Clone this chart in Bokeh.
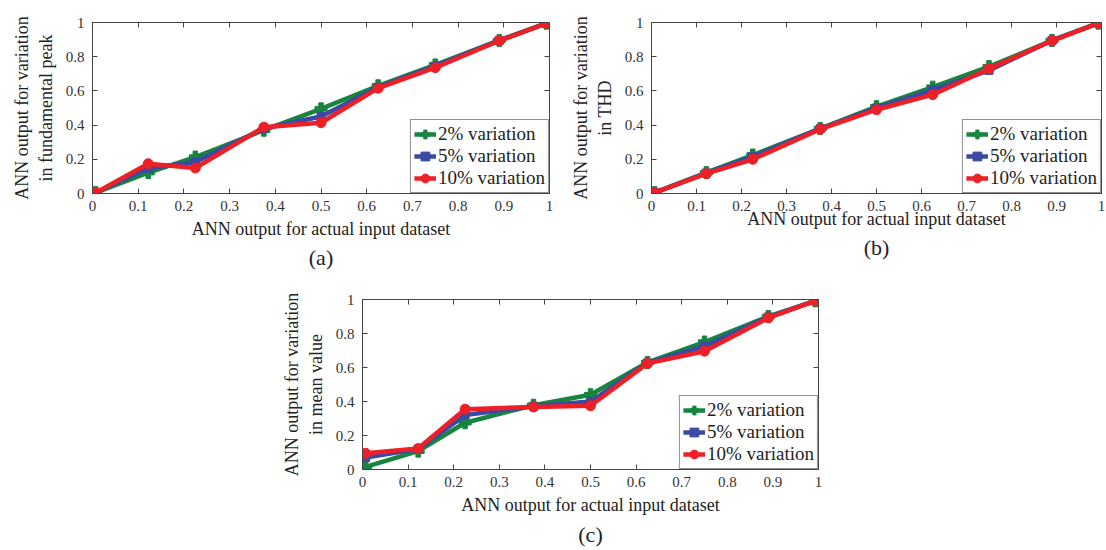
from bokeh.plotting import figure
from bokeh.models import LinearAxis, Title, Legend, LegendItem, FixedTicker, Range1d, Spacer
from bokeh.layouts import column, row
from bokeh.embed import file_html
from bokeh.resources import INLINE

# ---------------- data ----------------
x_actual = [0.007, 0.122, 0.225, 0.375, 0.5, 0.625, 0.75, 0.89, 0.993]

a_2 = [0.005, 0.122, 0.213, 0.370, 0.495, 0.630, 0.752, 0.895, 0.996]
a_5 = [0.005, 0.148, 0.184, 0.380, 0.450, 0.622, 0.745, 0.895, 0.995]
a_10 = [0.005, 0.174, 0.149, 0.388, 0.414, 0.616, 0.736, 0.893, 0.995]

b_2 = [0.005, 0.122, 0.225, 0.380, 0.508, 0.622, 0.742, 0.895, 0.996]
b_5 = [0.005, 0.120, 0.215, 0.380, 0.500, 0.605, 0.720, 0.895, 0.996]
b_10 = [0.005, 0.116, 0.200, 0.376, 0.490, 0.578, 0.730, 0.893, 0.996]

c_2 = [0.015, 0.108, 0.275, 0.378, 0.440, 0.630, 0.750, 0.900, 0.992]
c_5 = [0.070, 0.120, 0.320, 0.372, 0.400, 0.627, 0.725, 0.897, 0.992]
c_10 = [0.095, 0.123, 0.355, 0.368, 0.375, 0.624, 0.696, 0.892, 0.992]

series_labels = ["2% variation", "5% variation", "10% variation"]
x_ticks = [0, 0.1, 0.2, 0.3, 0.4, 0.5, 0.6, 0.7, 0.8, 0.9, 1]
x_tick_labels = ["0", "0.1", "0.2", "0.3", "0.4", "0.5", "0.6", "0.7", "0.8", "0.9", "1"]
y_ticks = [0, 0.2, 0.4, 0.6, 0.8, 1]
y_tick_labels = ["0", "0.2", "0.4", "0.6", "0.8", "1"]

x_label = "ANN output for actual input dataset"
y_labels = ["ANN output for variation\nin fundamental peak",
            "ANN output for variation\nin THD",
            "ANN output for variation\nin mean value"]
captions = ["(a)", "(b)", "(c)"]

# ---------------- style ----------------
FONT = "'Liberation Serif'"
COLORS = ["#17843f", "#3b4aa3", "#ee2027"]
MARKERS = ["plus", "square", "circle"]
MSIZES = [12, 8, 10]


def style_axis(ax, ticks, labels, show_labels=True):
    ax.ticker = FixedTicker(ticks=ticks)
    ax.minor_tick_line_color = None
    ax.major_tick_in = 5
    ax.major_tick_out = 0
    ax.axis_line_color = "#444444"
    ax.major_tick_line_color = "#444444"
    ax.major_label_text_font = FONT
    ax.major_label_text_color = "#333333"
    ax.major_label_text_font_size = "15px"
    if show_labels:
        ax.major_label_overrides = {t: l for t, l in zip(ticks, labels)}
    else:
        ax.major_label_overrides = {t: "" for t in ticks}
        ax.major_label_standoff = 0


def make_panel(ylabel, caption, ys, width, height, bl, bt, br, fh,
               xlab_standoff, title_standoff):
    bb = height - bt - fh
    p = figure(width=width, height=height,
               x_range=Range1d(0, 1), y_range=Range1d(0, 1),
               output_backend="svg", toolbar_location=None,
               min_border_left=bl, min_border_top=bt, min_border_right=br,
               min_border_bottom=bb)
    p.xgrid.visible = False
    p.ygrid.visible = False
    p.outline_line_color = "#444444"
    p.background_fill_color = "white"
    p.border_fill_color = "white"

    style_axis(p.xaxis[0], x_ticks, x_tick_labels)
    style_axis(p.yaxis[0], y_ticks, y_tick_labels)
    p.xaxis[0].major_label_standoff = 7
    p.yaxis[0].major_label_standoff = 8
    p.xaxis.axis_label = x_label
    p.yaxis.axis_label = ylabel
    for ax in (p.xaxis[0], p.yaxis[0]):
        ax.axis_label_text_font = FONT
        ax.axis_label_text_font_style = "normal"
        ax.axis_label_text_font_size = "18px"
        ax.axis_label_text_color = "#222222"
    p.xaxis[0].axis_label_standoff = xlab_standoff
    p.yaxis[0].axis_label_standoff = 7

    top = LinearAxis()
    style_axis(top, x_ticks, x_tick_labels, show_labels=False)
    p.add_layout(top, "above")
    right = LinearAxis()
    style_axis(right, y_ticks, y_tick_labels, show_labels=False)
    p.add_layout(right, "right")

    items = []
    for yv, col, mk, ms, lab in zip(ys, COLORS, MARKERS, MSIZES, series_labels):
        ln = p.line(x_actual, yv, line_color=col, line_width=4.5)
        sc = p.scatter(x_actual, yv, marker=mk, size=ms, fill_color=col,
                       line_color=col, line_width=1)
        items.append(LegendItem(label=lab, renderers=[ln, sc]))
    leg = Legend(items=items, location="bottom_right", margin=0,
                 padding=3, spacing=0, label_height=22, glyph_height=22,
                 glyph_width=22, label_standoff=2,
                 label_text_font=FONT, label_text_font_size="19px",
                 label_text_color="#222222",
                 border_line_color="#222222", border_line_width=1,
                 background_fill_color="white", background_fill_alpha=1.0)
    p.add_layout(leg)

    t = Title(text=caption, align="center", text_font=FONT,
              text_font_size="22px", text_font_style="normal",
              text_color="#222222", standoff=title_standoff)
    p.add_layout(t, "below")
    return p


pa = make_panel(y_labels[0], captions[0], [a_2, a_5, a_10],
                width=565, height=272, bl=92, bt=22, br=16, fh=171,
                xlab_standoff=5, title_standoff=3)
pb = make_panel(y_labels[1], captions[1], [b_2, b_5, b_10],
                width=540, height=272, bl=86, bt=22, br=4, fh=171,
                xlab_standoff=-5, title_standoff=3)
pc = make_panel(y_labels[2], captions[2], [c_2, c_5, c_10],
                width=562, height=276, bl=92, bt=27, br=14, fh=173,
                xlab_standoff=5, title_standoff=4)

layout = column(row(pa, pb), row(Spacer(width=270, height=276), pc))

open("out.html", "w").write(file_html(layout, INLINE))
